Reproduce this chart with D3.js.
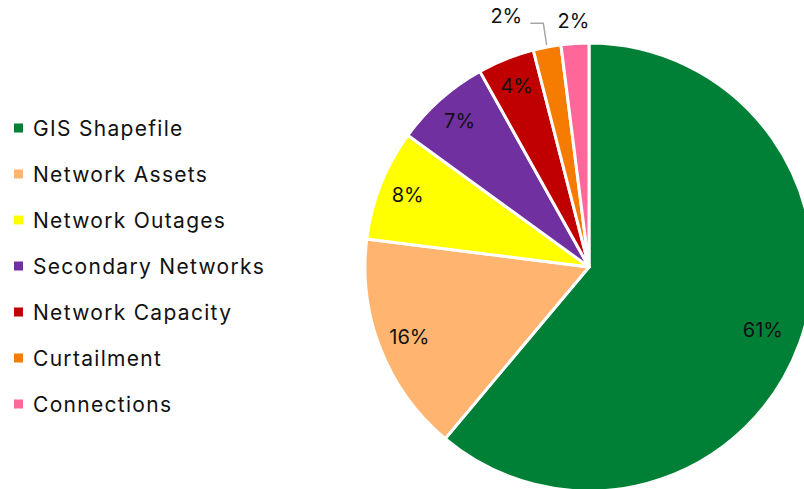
<!DOCTYPE html>
<html>
<head>
<meta charset="utf-8">
<script src="https://cdn.jsdelivr.net/npm/d3@7"></script>
<style>
  body { margin: 0; background: #fff; }
  text { font-family: "Inter", "Lato", sans-serif; fill: #111; }
</style>
</head>
<body>
<div id="chart"></div>
<script>
// data
const categories = ["GIS Shapefile", "Network Assets", "Network Outages", "Secondary Networks",
                    "Network Capacity", "Curtailment", "Connections"];
const values = [61.1, 15.9, 8.0, 6.9, 4.1, 2.0, 2.0];
const labels = ["61%", "16%", "8%", "7%", "4%", "2%", "2%"];
const colors = ["#008037", "#FFB570", "#FFFF00", "#7030A0", "#C00000", "#F57C00", "#FF6699"];

const width = 804, height = 489;
const cx = 589, cy = 267, radius = 224;

const svg = d3.select("#chart")
  .append("svg")
    .attr("width", width)
    .attr("height", height);

const data = categories.map((c, i) => ({name: c, value: values[i], label: labels[i], color: colors[i]}));

// clockwise from 12 o'clock, in data order
const pie = d3.pie()
  .value(d => d.value)
  .sort(null);

const arcs = pie(data);

const arc = d3.arc()
  .innerRadius(0)
  .outerRadius(radius);

const g = svg.append("g")
  .attr("transform", `translate(${cx}, ${cy})`);

g.selectAll("path")
  .data(arcs)
  .enter()
  .append("path")
    .attr("d", arc)
    .attr("fill", d => d.data.color)
    .attr("stroke", "#fff")
    .attr("stroke-width", 3)
    .attr("stroke-linejoin", "round");

// label radius per slice (small slices go outside)
const labelR = [185, 193, 195, 195, 195, 264, 247];
const labelShift = [0, 0, 0, 0, 0, -0.13, 0];   // extra angle (rad)

const pos = function(d, i) {
  const a = (d.startAngle + d.endAngle) / 2 + labelShift[i];
  return [labelR[i] * Math.sin(a), -labelR[i] * Math.cos(a)];
};

g.selectAll("text.lbl")
  .data(arcs)
  .enter()
  .append("text")
    .attr("class", "lbl")
    .attr("x", (d, i) => pos(d, i)[0])
    .attr("y", (d, i) => pos(d, i)[1])
    .attr("text-anchor", "middle")
    .attr("dominant-baseline", "central")
    .style("font-size", "20px")
    .text(d => d.data.label);

// leader line for the curtailment label
const cur = arcs[5];
const curMid = (cur.startAngle + cur.endAngle) / 2;
const lp = pos(cur, 5);
const edge = [(radius + 2) * Math.sin(curMid), -(radius + 2) * Math.cos(curMid)];
g.append("polyline")
  .attr("points", [[lp[0] + 24, lp[1] + 7], [lp[0] + 37, lp[1] + 7], edge].map(p => p.join(",")).join(" "))
  .attr("fill", "none")
  .attr("stroke", "#a6a6a6")
  .attr("stroke-width", 1.5);

// legend
const legend = svg.append("g")
  .attr("transform", "translate(14, 128)");

const item = legend.selectAll("g")
  .data(data)
  .enter()
  .append("g")
    .attr("transform", (d, i) => `translate(0, ${i * 46})`);

item.append("rect")
  .attr("x", 0)
  .attr("y", -4.5)
  .attr("width", 9)
  .attr("height", 9)
  .attr("fill", d => d.color);

item.append("text")
  .attr("x", 19)
  .attr("y", 0)
  .attr("dominant-baseline", "central")
  .style("font-size", "21px")
  .style("letter-spacing", "1.3px")
  .text(d => d.name);
</script>
</body>
</html>
